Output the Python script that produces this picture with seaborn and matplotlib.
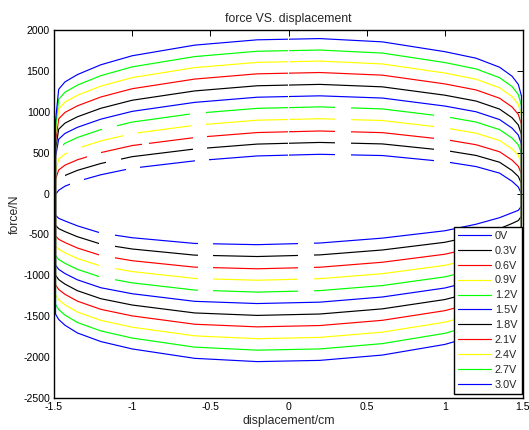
import matplotlib
matplotlib.use("Agg")
import matplotlib.pyplot as plt
from matplotlib.path import Path
from matplotlib.lines import Line2D
import seaborn as sns
import pandas as pd

# ---------------- data ----------------
voltages = ["0V", "0.3V", "0.6V", "0.9V", "1.2V", "1.5V", "1.8V", "2.1V", "2.4V", "2.7V", "3.0V"]
line_colors = ["#0000FF", "#000000", "#FF0000", "#FFFF00", "#00FF00",
               "#0000FF", "#000000", "#FF0000", "#FFFF00", "#00FF00", "#0000FF"]

x_grid = [-1.49, -1.47, -1.43, -1.35, -1.2, -1.0, -0.6, -0.2, 0.2, 0.6, 1.0, 1.2, 1.35, 1.43, 1.47, 1.49]

# upper branch (moving right), force in N, one row per voltage
upper_force = [
    [-10, 40, 90, 150, 230, 310, 400, 460, 480, 465, 390, 330, 250, 150, 80, 0],
    [84, 167, 221, 284, 368, 451, 545, 605, 625, 607, 528, 466, 383, 282, 209, 123],
    [173, 289, 347, 413, 501, 587, 685, 746, 765, 745, 661, 597, 511, 409, 333, 241],
    [272, 421, 483, 552, 644, 733, 835, 897, 915, 893, 804, 738, 649, 546, 467, 369],
    [366, 548, 614, 686, 782, 874, 980, 1042, 1060, 1035, 942, 874, 782, 678, 596, 492],
    [450, 665, 735, 810, 910, 1005, 1115, 1178, 1195, 1168, 1070, 1000, 905, 800, 715, 605],
    [539, 787, 861, 939, 1043, 1141, 1255, 1318, 1335, 1305, 1203, 1131, 1033, 927, 839, 723],
    [633, 914, 992, 1073, 1181, 1282, 1400, 1464, 1480, 1448, 1341, 1267, 1166, 1059, 968, 846],
    [722, 1036, 1118, 1202, 1314, 1418, 1540, 1604, 1620, 1585, 1474, 1398, 1294, 1186, 1092, 964],
    [806, 1153, 1239, 1326, 1442, 1549, 1675, 1740, 1755, 1718, 1602, 1524, 1417, 1308, 1211, 1077],
    [895, 1275, 1365, 1455, 1575, 1685, 1815, 1880, 1895, 1855, 1735, 1655, 1545, 1435, 1335, 1195],
]

# lower branch (moving left), force in N, one row per voltage, same x grid
lower_force = [
    [-265, -303, -335, -395, -483, -540, -610, -625, -605, -545, -455, -375, -295, -235, -205, -155],
    [-388, -429, -465, -528, -618, -678, -753, -770, -750, -690, -596, -513, -429, -366, -330, -277],
    [-516, -559, -599, -666, -757, -821, -900, -920, -901, -840, -742, -656, -568, -502, -460, -404],
    [-634, -680, -724, -794, -887, -954, -1038, -1060, -1041, -980, -878, -789, -697, -628, -580, -521],
    [-757, -806, -853, -927, -1022, -1092, -1180, -1205, -1187, -1125, -1019, -927, -831, -759, -705, -643],
    [-875, -927, -978, -1055, -1152, -1225, -1318, -1345, -1328, -1265, -1155, -1060, -960, -885, -825, -760],
    [-998, -1052, -1107, -1188, -1286, -1363, -1460, -1490, -1473, -1410, -1296, -1198, -1094, -1016, -950, -882],
    [-1116, -1173, -1232, -1316, -1416, -1496, -1598, -1630, -1614, -1550, -1432, -1331, -1223, -1142, -1070, -999],
    [-1239, -1299, -1361, -1449, -1551, -1634, -1740, -1775, -1759, -1695, -1573, -1469, -1357, -1273, -1195, -1121],
    [-1357, -1419, -1486, -1577, -1680, -1767, -1878, -1915, -1900, -1835, -1709, -1602, -1486, -1399, -1315, -1238],
    [-1475, -1540, -1610, -1705, -1810, -1900, -2015, -2055, -2040, -1975, -1845, -1735, -1615, -1525, -1435, -1355],
]

# missing stretches (x ranges) in the recorded branches
center_gap = [(-0.004, 0.004)]
upper_gaps = [
    [(-1.40, -1.31), (-1.04, -0.95), (-0.60, -0.51), (0.30, 0.40), (0.93, 1.03)],
    [(-1.55, -1.43), (-1.17, -1.07), (-0.61, -0.52), (0.30, 0.40), (0.93, 1.03)],
    [(-1.29, -1.20), (-0.94, -0.89), (-0.61, -0.52), (0.30, 0.40), (0.93, 1.03)],
    [(-1.42, -1.33), (-1.06, -0.97), (-0.62, -0.53), (0.30, 0.40), (0.93, 1.03)],
    [(-1.55, -1.44), (-1.19, -1.10), (-0.63, -0.53), (0.30, 0.40), (0.93, 1.03)],
    [], [], [], [], [], [],
]
lower_gaps = [
    [(-1.21, -1.11), (-0.58, -0.48), (0.06, 0.16)],
    [(-1.21, -1.11), (-0.58, -0.48), (0.06, 0.16)],
    [(-1.21, -1.11), (-0.58, -0.48), (0.06, 0.16)],
    [(-1.21, -1.11), (-0.58, -0.48), (0.06, 0.16)],
    [(-1.21, -1.11), (-0.58, -0.48), (0.06, 0.16)],
    [], [], [], [], [], [],
]

x_ticks = [-1.5, -1.0, -0.5, 0.0, 0.5, 1.0, 1.5]
x_tick_labels = ["-1.5", "-1", "-0.5", "0", "0.5", "1", "1.5"]
y_ticks = [-2500, -2000, -1500, -1000, -500, 0, 500, 1000, 1500, 2000]

# ---------------- style ----------------
sns.set_style("white")
plt.rcParams["font.family"] = ["Liberation Sans", "DejaVu Sans"]
plt.rcParams["axes.unicode_minus"] = False

fig = plt.figure(figsize=(5.29, 4.30), dpi=100)
ax = fig.add_axes([54 / 529, 1 - 398 / 430, (523 - 54) / 529, 368 / 430])


def clip_outside(line, gaps):
    """Hide the x ranges listed in gaps (x in data units, y spanning the axes)."""
    if not gaps:
        return
    edges = [-10.0]
    for a, b in sorted(gaps):
        edges += [a, b]
    edges.append(10.0)
    verts, codes = [], []
    for i in range(0, len(edges), 2):
        x0, x1 = edges[i], edges[i + 1]
        verts += [(x0, -1), (x1, -1), (x1, 2), (x0, 2), (x0, -1)]
        codes += [Path.MOVETO, Path.LINETO, Path.LINETO, Path.LINETO, Path.CLOSEPOLY]
    line.set_clip_path(Path(verts, codes), ax.get_xaxis_transform())


lw = 0.85
for k, v in enumerate(voltages):
    up = upper_force[k]
    lo = lower_force[k]
    # upper branch, starting from the left turning point
    df_up = pd.DataFrame({"x": [x_grid[0]] + x_grid, "F": [lo[0]] + up})
    sns.lineplot(data=df_up, x="x", y="F", sort=False, estimator=None,
                 color=line_colors[k], linewidth=lw, ax=ax)
    clip_outside(ax.lines[-1], upper_gaps[k] + center_gap)
    # lower branch, starting from the right turning point
    df_lo = pd.DataFrame({"x": [x_grid[-1]] + x_grid[::-1], "F": [up[-1]] + lo[::-1]})
    sns.lineplot(data=df_lo, x="x", y="F", sort=False, estimator=None,
                 color=line_colors[k], linewidth=lw, ax=ax)
    clip_outside(ax.lines[-1], lower_gaps[k])

ax.set_xlim(-1.5, 1.5)
ax.set_ylim(-2500, 2000)
ax.set_xticks(x_ticks)
ax.set_xticklabels(x_tick_labels)
ax.set_yticks(y_ticks)
ax.set_yticklabels([str(t) for t in y_ticks])
ax.tick_params(direction="in", length=4, width=0.7, top=True, right=True,
               labelsize=7.6, pad=3, colors="black")
for s in ax.spines.values():
    s.set_visible(True)
    s.set_color("black")
    s.set_linewidth(1.0)

ax.set_title("force VS. displacement", fontsize=8.8, pad=6)
ax.set_xlabel("displacement/cm", fontsize=8.8, labelpad=2)
ax.set_ylabel("force/N", fontsize=8.8, labelpad=2)

handles = [Line2D([], [], color=c, linewidth=lw) for c in line_colors]
leg = ax.legend(handles, voltages, loc="lower right", bbox_to_anchor=(0.997, 0.011),
                borderaxespad=0, fontsize=7.8, frameon=True, fancybox=False,
                framealpha=1, edgecolor="black", handlelength=3.0,
                handletextpad=0.35, labelspacing=0.45, borderpad=0.4)
leg.get_frame().set_linewidth(1.0)

fig.savefig("out.png", dpi=100)
